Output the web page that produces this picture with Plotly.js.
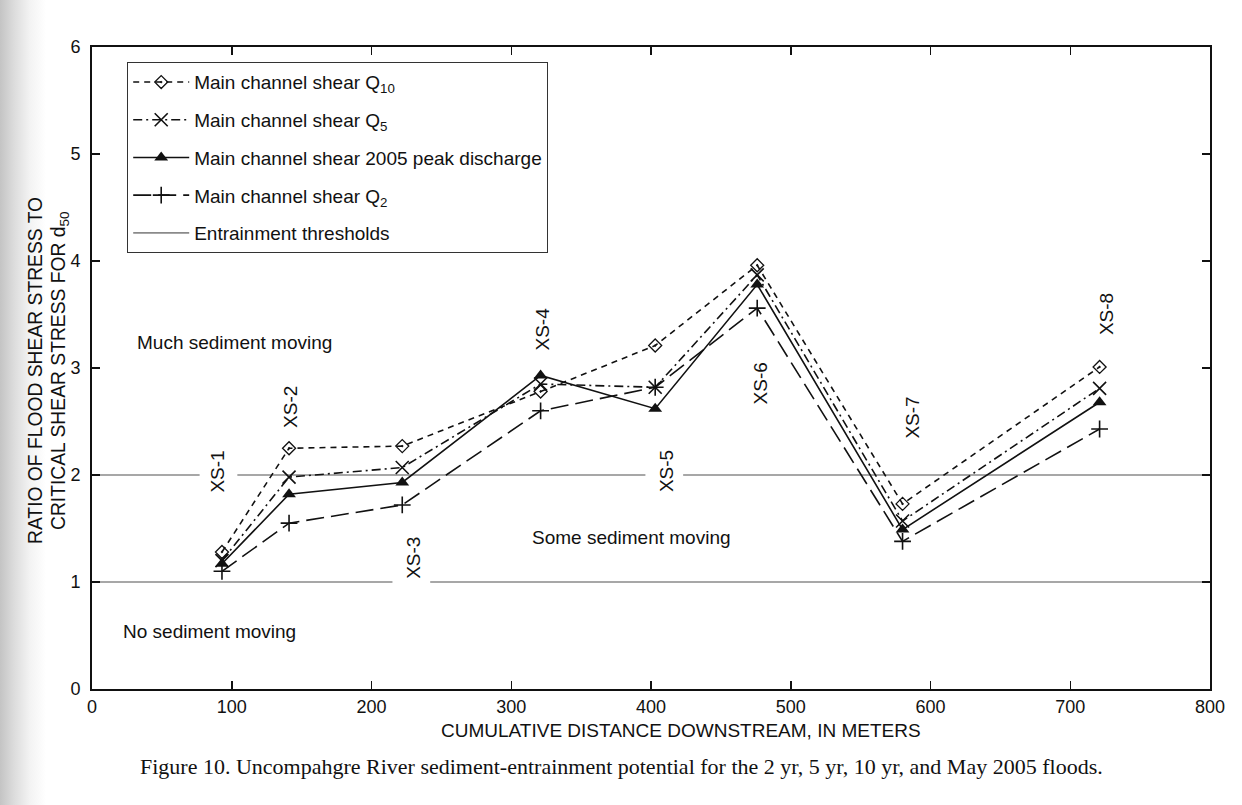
<!DOCTYPE html>
<html>
<head>
<meta charset="utf-8">
<script src="https://cdn.plot.ly/plotly-3.0.1.min.js"></script>
<style>
  html, body { margin: 0; padding: 0; }
  body {
    width: 1242px; height: 805px; overflow: hidden;
    background: linear-gradient(to right, #c4c4c4 0px, #dcdcdc 14px, #f3f3f3 30px, #ffffff 46px);
  }
  #chart { width: 1242px; height: 805px; }
</style>
</head>
<body>
<div id="chart"></div>
<script>
// Cumulative distance downstream (m) of each cross section
const distance = [93, 141, 222, 321, 403, 476, 580, 721];
const sections = ['XS-1', 'XS-2', 'XS-3', 'XS-4', 'XS-5', 'XS-6', 'XS-7', 'XS-8'];

// Ratio of flood shear stress to critical shear stress for d50
const shearQ10 = [1.28, 2.25, 2.27, 2.78, 3.21, 3.96, 1.73, 3.01];
const shearQ5 = [1.20, 1.98, 2.07, 2.85, 2.82, 3.87, 1.57, 2.81];
const shear2005 = [1.17, 1.82, 1.93, 2.93, 2.62, 3.78, 1.49, 2.68];
const shearQ2 = [1.10, 1.55, 1.72, 2.60, 2.82, 3.56, 1.38, 2.43];

// Entrainment thresholds, broken where section labels sit on them
const thresholdX = [0, 77, null, 104, 396, null, 423, 800, null, 0, 215, null, 242, 800];
const thresholdY = [2, 2, null, 2, 2, null, 2, 2, null, 1, 1, null, 1, 1];

// Section label positions
const labelX = [90, 142, 230, 322, 411, 479, 587, 726];
const labelY = [2.03, 2.64, 1.23, 3.36, 2.04, 2.86, 2.54, 3.50];

// Zone labels
const zoneText = ['Much sediment moving', 'Some sediment moving', 'No sediment moving'];
const zoneX = [31, 386, 21];
const zoneY = [3.24, 1.42, 0.54];
const zoneAnchor = ['left', 'center', 'left'];

// Axis titles and caption
const xTitle = 'CUMULATIVE DISTANCE DOWNSTREAM, IN METERS';
const yTitleLines = ['RATIO OF FLOOD SHEAR STRESS TO', 'CRITICAL SHEAR STRESS FOR d<sub>50</sub>'];
const caption = 'Figure 10. Uncompahgre River sediment-entrainment potential for the 2 yr, 5 yr, 10 yr, and May 2005 floods.';

const FONT = 'Liberation Sans, Arial, Helvetica, sans-serif';
const INK = '#111111';

// plot-area geometry in pixels, used to place texts outside the axes
const PL = 92, PR = 1210, PT = 47, PB = 689;
const px2paperX = p => (p - PL) / (PR - PL);
const px2paperY = p => (PB - p) / (PB - PT);

const traces = [
  {
    x: thresholdX, y: thresholdY, mode: 'lines', connectgaps: false,
    name: 'Entrainment thresholds', legendrank: 5, legendgroup: 'g5',
    line: { color: '#8a8a8a', width: 1.6 }, hoverinfo: 'skip'
  },
  {
    x: distance, y: shearQ10, mode: 'lines+markers',
    name: 'Main channel shear Q<sub>10</sub>', legendrank: 1, legendgroup: 'g1',
    line: { color: INK, width: 1.6, dash: '6px,5px' },
    marker: { symbol: 'diamond-open-dot', size: 10, color: INK, line: { width: 1.3, color: INK } }
  },
  {
    x: distance, y: shearQ5, mode: 'lines+markers',
    name: 'Main channel shear Q<sub>5</sub>', legendrank: 2, legendgroup: 'g2',
    line: { color: INK, width: 1.6, dash: '9px,4px,2px,4px' },
    marker: { symbol: 'x-thin-open', size: 13, color: INK, line: { width: 1.6, color: INK } }
  },
  {
    x: distance, y: shear2005, mode: 'lines+markers',
    name: 'Main channel shear 2005 peak discharge', legendrank: 3, legendgroup: 'g3',
    line: { color: INK, width: 1.6 },
    marker: { symbol: 'triangle-up', size: 12, color: INK }
  },
  {
    x: distance, y: shearQ2, mode: 'lines+markers',
    name: 'Main channel shear Q<sub>2</sub>', legendrank: 4, legendgroup: 'g4',
    line: { color: INK, width: 1.6, dash: '18px,7px' },
    marker: { symbol: 'cross-thin-open', size: 12, color: INK, line: { width: 1.6, color: INK } }
  }
];

const annotations = [];
sections.forEach((s, i) => {
  annotations.push({
    x: labelX[i], y: labelY[i], xref: 'x', yref: 'y', text: s,
    showarrow: false, textangle: -90,
    font: { family: FONT, size: 19, color: INK },
    xanchor: 'center', yanchor: 'middle'
  });
});
zoneText.forEach((t, i) => {
  annotations.push({
    x: zoneX[i], y: zoneY[i], xref: 'x', yref: 'y', text: t,
    showarrow: false, xanchor: zoneAnchor[i], yanchor: 'middle',
    font: { family: FONT, size: 19, color: INK }
  });
});
// x-axis title
annotations.push({
  x: px2paperX(681), y: px2paperY(731), xref: 'paper', yref: 'paper', showarrow: false,
  text: xTitle, font: { family: FONT, size: 19, color: INK },
  xanchor: 'center', yanchor: 'middle'
});
// y-axis title, two stacked rotated lines (the second carries a subscript, so its box is wider)
[35, 60].forEach((cx, i) => {
  annotations.push({
    x: px2paperX(cx), y: px2paperY(371), xref: 'paper', yref: 'paper', showarrow: false,
    text: yTitleLines[i], textangle: -90,
    font: { family: FONT, size: 19.3, color: INK },
    xanchor: 'center', yanchor: 'middle'
  });
});
// figure caption
annotations.push({
  x: px2paperX(621), y: px2paperY(766), xref: 'paper', yref: 'paper', showarrow: false,
  text: caption,
  font: { family: 'Liberation Serif, Times New Roman, serif', size: 22, color: INK },
  xanchor: 'center', yanchor: 'middle'
});

const layout = {
  width: 1242, height: 805,
  margin: { l: PL, r: 1242 - PR, t: PT, b: 805 - PB },
  paper_bgcolor: 'rgba(0,0,0,0)',
  plot_bgcolor: '#ffffff',
  font: { family: FONT, size: 18, color: INK },
  showlegend: true,
  legend: {
    x: px2paperX(127), y: px2paperY(62), xanchor: 'left', yanchor: 'top',
    bgcolor: '#ffffff', bordercolor: '#333333', borderwidth: 1.2,
    font: { family: FONT, size: 19, color: INK },
    traceorder: 'grouped', tracegroupgap: 10, itemwidth: 56
  },
  xaxis: {
    range: [0, 800], tickvals: [0, 100, 200, 300, 400, 500, 600, 700, 800],
    showgrid: false, zeroline: false,
    showline: true, linecolor: INK, linewidth: 2, mirror: 'ticks',
    ticks: 'inside', ticklen: 8, tickwidth: 1.5, tickcolor: INK,
    tickfont: { family: FONT, size: 18, color: INK }
  },
  yaxis: {
    range: [0, 6], tickvals: [0, 1, 2, 3, 4, 5, 6],
    showgrid: false, zeroline: false,
    showline: true, linecolor: INK, linewidth: 2, mirror: 'ticks',
    ticks: 'inside', ticklen: 8, tickwidth: 1.5, tickcolor: INK, ticklabelstandoff: 6,
    tickfont: { family: FONT, size: 18, color: INK }
  },
  annotations: annotations
};

Plotly.newPlot('chart', traces, layout, { displayModeBar: false, staticPlot: true });
</script>
</body>
</html>
